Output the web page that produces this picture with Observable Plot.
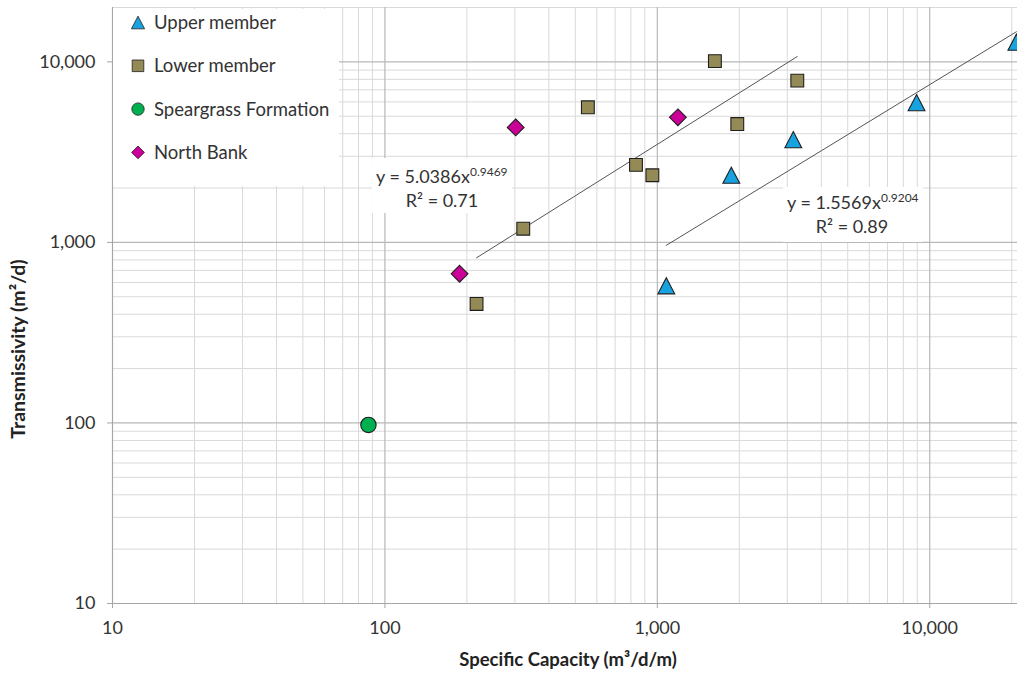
<!DOCTYPE html>
<html>
<head>
<meta charset="utf-8">
<script src="https://cdn.jsdelivr.net/npm/d3@7"></script>
<script src="https://cdn.jsdelivr.net/npm/@observablehq/plot@0.6"></script>
<style>
  html, body { margin: 0; padding: 0; background: #fff; }
  #chart { width: 1017px; height: 675px; overflow: hidden; }
</style>
</head>
<body>
<div id="chart"></div>
<script>
// Specific capacity (m3/d/m) and transmissivity (m2/d) by unit
const upperSC = [1079, 1869, 3156, 8946, 20800];
const upperT  = [575, 2355, 3707, 5943, 12850];

const lowerSC = [1627, 3265, 556, 1966, 835, 959, 322, 217];
const lowerT  = [10090, 7870, 5600, 4525, 2688, 2355, 1191, 456];

const speargrassSC = [87];
const speargrassT  = [97.5];

const northBankSC = [302, 1190, 188];
const northBankT  = [4335, 4930, 670];

const seriesNames = ["Upper member", "Lower member", "Speargrass Formation", "North Bank"];

// Power-law trendlines T = a * SC^b
const fitLower = { a: 5.0386, b: 0.9469, r2: "0.71" };
const fitUpper = { a: 1.5569, b: 0.9204, r2: "0.89" };

const xMajorTicks = [10, 100, 1000, 10000];
const yMajorTicks = [10, 100, 1000, 10000];

const xTitle = "Specific Capacity (m³/d/m)";
const yTitle = "Transmissivity (m²/d)";

// ---- styling ----
const FONT = "Lato, 'Open Sans', sans-serif";
const colors = {
  upper: "#17A2E0",
  lower: "#938A55",
  speargrass: "#00B050",
  north: "#CC0099",
  outline: "#1f1f1f"
};

// Marker shapes (size = PI r^2, as Plot passes it)
const rOf = size => Math.sqrt(size / Math.PI);
const triangleSym = { draw(ctx, size) { const r = rOf(size), h = r * 0.96;
  ctx.moveTo(0, -h); ctx.lineTo(r, h); ctx.lineTo(-r, h); ctx.closePath(); } };
const squareSym = { draw(ctx, size) { const r = rOf(size); ctx.rect(-r, -r, 2 * r, 2 * r); } };
const diamondSym = { draw(ctx, size) { const r = rOf(size);
  ctx.moveTo(0, -r); ctx.lineTo(r, 0); ctx.lineTo(0, r); ctx.lineTo(-r, 0); ctx.closePath(); } };
const circleSym = { draw(ctx, size) { const r = rOf(size); ctx.moveTo(r, 0); ctx.arc(0, 0, r, 0, 2 * Math.PI); } };

const xDomain = [10, 21000];
const yDomain = [10, 20000];
const gridX = d3.scaleLog().domain([10, 20000]).ticks();
const gridY = d3.scaleLog().domain(yDomain).ticks();
const isMajor = v => Math.abs(Math.log10(v) - Math.round(Math.log10(v))) < 1e-9;

const fitLine = (fit, xs) => [d3.min(xs), d3.max(xs)].map(x => ({ x, y: fit.a * Math.pow(x, fit.b) }));

const plot = Plot.plot({
  width: 1017,
  height: 675,
  marginLeft: 112,
  marginRight: 0,
  marginTop: 7,
  marginBottom: 72,
  style: { fontFamily: FONT, fontSize: "18px", color: "#333", background: "#fff" },
  x: { type: "log", domain: xDomain },
  y: { type: "log", domain: yDomain },
  marks: [
    Plot.ruleX(gridX.filter(v => !isMajor(v)), { stroke: "#D9D9D9", strokeWidth: 1 }),
    Plot.ruleY(gridY.filter(v => !isMajor(v)), { stroke: "#D9D9D9", strokeWidth: 1 }),
    Plot.ruleX(gridX.filter(isMajor), { stroke: "#B8B8B8", strokeWidth: 1.2 }),
    Plot.ruleY(gridY.filter(isMajor), { stroke: "#B8B8B8", strokeWidth: 1.2 }),
    Plot.ruleX([10], { stroke: "#A6A6A6", strokeWidth: 1 }),
    Plot.ruleY([10], { stroke: "#A6A6A6", strokeWidth: 1 }),
    Plot.axisX({ ticks: xMajorTicks, tickFormat: d3.format(","), tickSize: 5, tickPadding: 13,
      stroke: "#A6A6A6", fill: "#333", label: null }),
    Plot.axisY({ ticks: yMajorTicks, tickFormat: d3.format(","), tickSize: 5, tickPadding: 12,
      stroke: "#A6A6A6", fill: "#333", label: null }),
    Plot.line(fitLine(fitLower, lowerSC), { x: "x", y: "y", stroke: "#555", strokeWidth: 1 }),
    Plot.line(fitLine(fitUpper, upperSC), { x: "x", y: "y", stroke: "#555", strokeWidth: 1 }),
    Plot.dot(lowerSC, { x: lowerSC, y: lowerT, symbol: squareSym, r: 6.4, fill: colors.lower, stroke: colors.outline, strokeWidth: 1.1 }),
    Plot.dot(northBankSC, { x: northBankSC, y: northBankT, symbol: diamondSym, r: 8.4, fill: colors.north, stroke: colors.outline, strokeWidth: 1.1 }),
    Plot.dot(speargrassSC, { x: speargrassSC, y: speargrassT, symbol: circleSym, r: 7.7, fill: colors.speargrass, stroke: colors.outline, strokeWidth: 1.1 }),
    Plot.dot(upperSC, { x: upperSC, y: upperT, symbol: triangleSym, r: 8.4, fill: colors.upper, stroke: colors.outline, strokeWidth: 1.1 })
  ]
});

const svg = d3.select(plot);

// Axis titles
svg.append("text")
  .attr("x", 568).attr("y", 666)
  .attr("text-anchor", "middle").attr("font-family", FONT).attr("font-weight", "bold")
  .attr("font-size", 18.5).attr("fill", "#222").text(xTitle);
svg.append("text")
  .attr("transform", "translate(25,349) rotate(-90)")
  .attr("text-anchor", "middle").attr("font-family", FONT).attr("font-weight", "bold")
  .attr("font-size", 19.5).attr("fill", "#222").text(yTitle);

// Legend box in the upper-left corner of the plot area
const legend = svg.append("g").attr("font-family", FONT).attr("font-size", 18.5).attr("fill", "#333");
legend.append("rect").attr("x", 113).attr("y", 9).attr("width", 226).attr("height", 177).attr("fill", "#fff");
const legendItems = [
  { name: seriesNames[0], sym: triangleSym, r: 6.6, fill: colors.upper },
  { name: seriesNames[1], sym: squareSym, r: 5.8, fill: colors.lower },
  { name: seriesNames[2], sym: circleSym, r: 6.2, fill: colors.speargrass },
  { name: seriesNames[3], sym: diamondSym, r: 6.4, fill: colors.north }
];
legendItems.forEach((it, i) => {
  const cy = 22.5 + i * 43.3;
  legend.append("path")
    .attr("transform", `translate(138,${cy})`)
    .attr("d", d3.symbol(it.sym, Math.PI * it.r * it.r)())
    .attr("fill", it.fill).attr("stroke", colors.outline).attr("stroke-width", 0.8);
  legend.append("text").attr("x", 154).attr("y", cy).attr("dy", "0.36em")
    .attr("text-anchor", "start").text(it.name);
});

// Trendline equation labels
function equationLabel(fit, box, eqX, eqBase, r2Center, r2Base) {
  const g = svg.append("g").attr("font-family", FONT).attr("fill", "#333");
  g.append("rect").attr("x", box[0]).attr("y", box[1]).attr("width", box[2]).attr("height", box[3]).attr("fill", "#fff");
  const t = g.append("text").attr("x", eqX).attr("y", eqBase).attr("font-size", 18).attr("text-anchor", "start");
  t.append("tspan").text(`y = ${fit.a.toFixed(4)}x`);
  t.append("tspan").attr("font-size", 12).attr("dy", -7).text(fit.b.toFixed(4));
  g.append("text").attr("x", r2Center).attr("y", r2Base).attr("font-size", 18)
    .attr("text-anchor", "middle").text(`R² = ${fit.r2}`);
}
equationLabel(fitLower, [372, 158, 140, 55], 376, 183, 442, 207);
equationLabel(fitUpper, [783, 187, 140, 55], 787, 209, 852, 233);

document.getElementById("chart").appendChild(plot);
</script>
</body>
</html>
